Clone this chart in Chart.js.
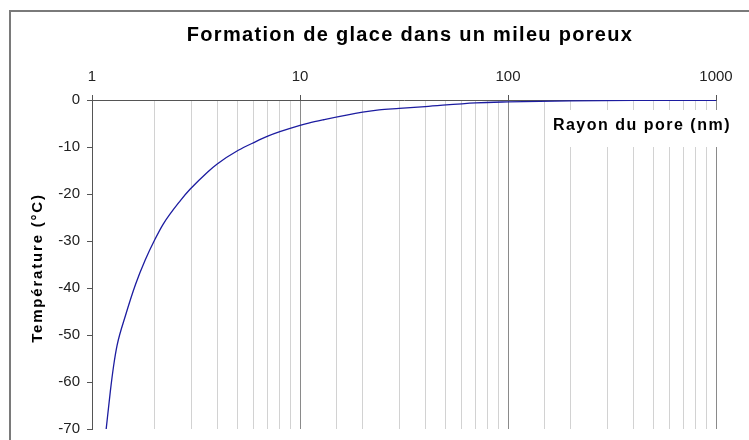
<!DOCTYPE html>
<html>
<head>
<meta charset="utf-8">
<script src="https://cdn.jsdelivr.net/npm/chart.js@4"></script>
<style>
  body { margin: 0; background: #fff; }
  #wrap { width: 749px; height: 440px; }
</style>
</head>
<body>
<div id="wrap"><canvas id="myChart" width="749" height="440"></canvas></div>
<script>
const ctx = document.getElementById('myChart').getContext('2d');

// pore radius (nm) and freezing temperature (°C)
const radius = [1.17, 1.225, 1.27, 1.32, 1.45, 1.62, 1.8, 2.0, 2.2, 2.66, 2.96, 3.6, 4.0, 5.05, 6.1, 7.0, 8.0, 10, 11, 13, 20, 24, 30, 40, 70, 100, 200, 400, 1000];
const temperature = [-70, -62, -56.6, -52.2, -45.8, -39.2, -34.1, -29.8, -26.4, -21.4, -19.0, -15.3, -13.6, -10.7, -8.9, -7.7, -6.75, -5.4, -4.9, -4.2, -2.6, -2.1, -1.8, -1.4, -0.6, -0.4, -0.2, -0.1, -0.05];
const majorTicks = [1, 10, 100, 1000];

const chartTitle = 'Formation de glace dans un mileu poreux';
const xTitle = 'Rayon du pore (nm)';
const yTitle = 'Température (°C)';

const FONT = "'Liberation Sans', Arial, sans-serif";

const isMajor = (v) => majorTicks.includes(Math.round(v));

// frame, titles (Excel-like wide spacing) and white box behind the x title
const decor = {
    id: 'decor',
    beforeDraw(chart) {
        const c = chart.ctx;
        c.save();
        c.fillStyle = '#fff';
        c.fillRect(0, 0, chart.width, chart.height);
        c.strokeStyle = '#7a7a7a';
        c.lineWidth = 2;
        c.beginPath();
        c.moveTo(10, 440);
        c.lineTo(10, 11);
        c.lineTo(749, 11);
        c.stroke();
        c.restore();
    },
    afterDraw(chart) {
        const c = chart.ctx;
        c.save();
        c.fillStyle = '#000';
        c.textBaseline = 'middle';

        c.font = 'bold 20px ' + FONT;
        c.letterSpacing = '1.3px';
        c.textAlign = 'center';
        c.fillText(chartTitle, 410, 35);

        c.fillStyle = '#fff';
        c.fillRect(548, 110, 190, 37);
        c.fillStyle = '#000';
        c.font = 'bold 16px ' + FONT;
        c.letterSpacing = '1.5px';
        c.textAlign = 'right';
        c.fillText(xTitle, 731, 126);

        c.font = 'bold 15px ' + FONT;
        c.letterSpacing = '1.8px';
        c.textAlign = 'center';
        c.translate(38, 268);
        c.rotate(-Math.PI / 2);
        c.fillText(yTitle, 0, 0);
        c.restore();
    }
};

const data = {
    datasets: [
        {
            data: radius.map((r, i) => ({ x: r, y: temperature[i] })),
            borderColor: '#1c1ca0',
            borderWidth: 1.3,
            pointRadius: 0,
            cubicInterpolationMode: 'monotone',
            fill: false,
        },
    ],
};

const config = {
    type: 'line',
    data: data,
    plugins: [decor],
    options: {
        responsive: false,
        animation: false,
        layout: {
            padding: { top: 46, right: 33, bottom: 11, left: 0 }
        },
        plugins: {
            legend: { display: false },
            tooltip: { enabled: false },
        },
        scales: {
            x: {
                type: 'logarithmic',
                position: 'top',
                min: 1,
                max: 1000,
                afterFit: (scale) => { scale.height = 54; },
                border: { color: '#555', width: 1 },
                grid: {
                    color: (c) => isMajor(c.tick.value) ? '#8a8a8a' : '#d2d2d2',
                    tickColor: (c) => isMajor(c.tick.value) ? '#555' : 'rgba(0,0,0,0)',
                    tickLength: 5,
                },
                ticks: {
                    autoSkip: false,
                    maxRotation: 0,
                    padding: 9,
                    color: '#222',
                    font: { family: FONT, size: 15 },
                    callback: (v) => isMajor(v) ? String(Math.round(v)) : '',
                }
            },
            y: {
                min: -70,
                max: 0,
                afterFit: (scale) => {
                    scale.width = 92;
                    scale.paddingTop = 0;
                    scale.paddingBottom = 0;
                },
                border: { color: '#555', width: 1 },
                grid: {
                    drawOnChartArea: false,
                    tickLength: 5,
                    tickColor: '#555',
                },
                ticks: {
                    stepSize: 10,
                    padding: 7,
                    color: '#222',
                    font: { family: FONT, size: 15 },
                }
            }
        },
    },
};

const myChart = new Chart(ctx, config);
</script>
</body>
</html>
